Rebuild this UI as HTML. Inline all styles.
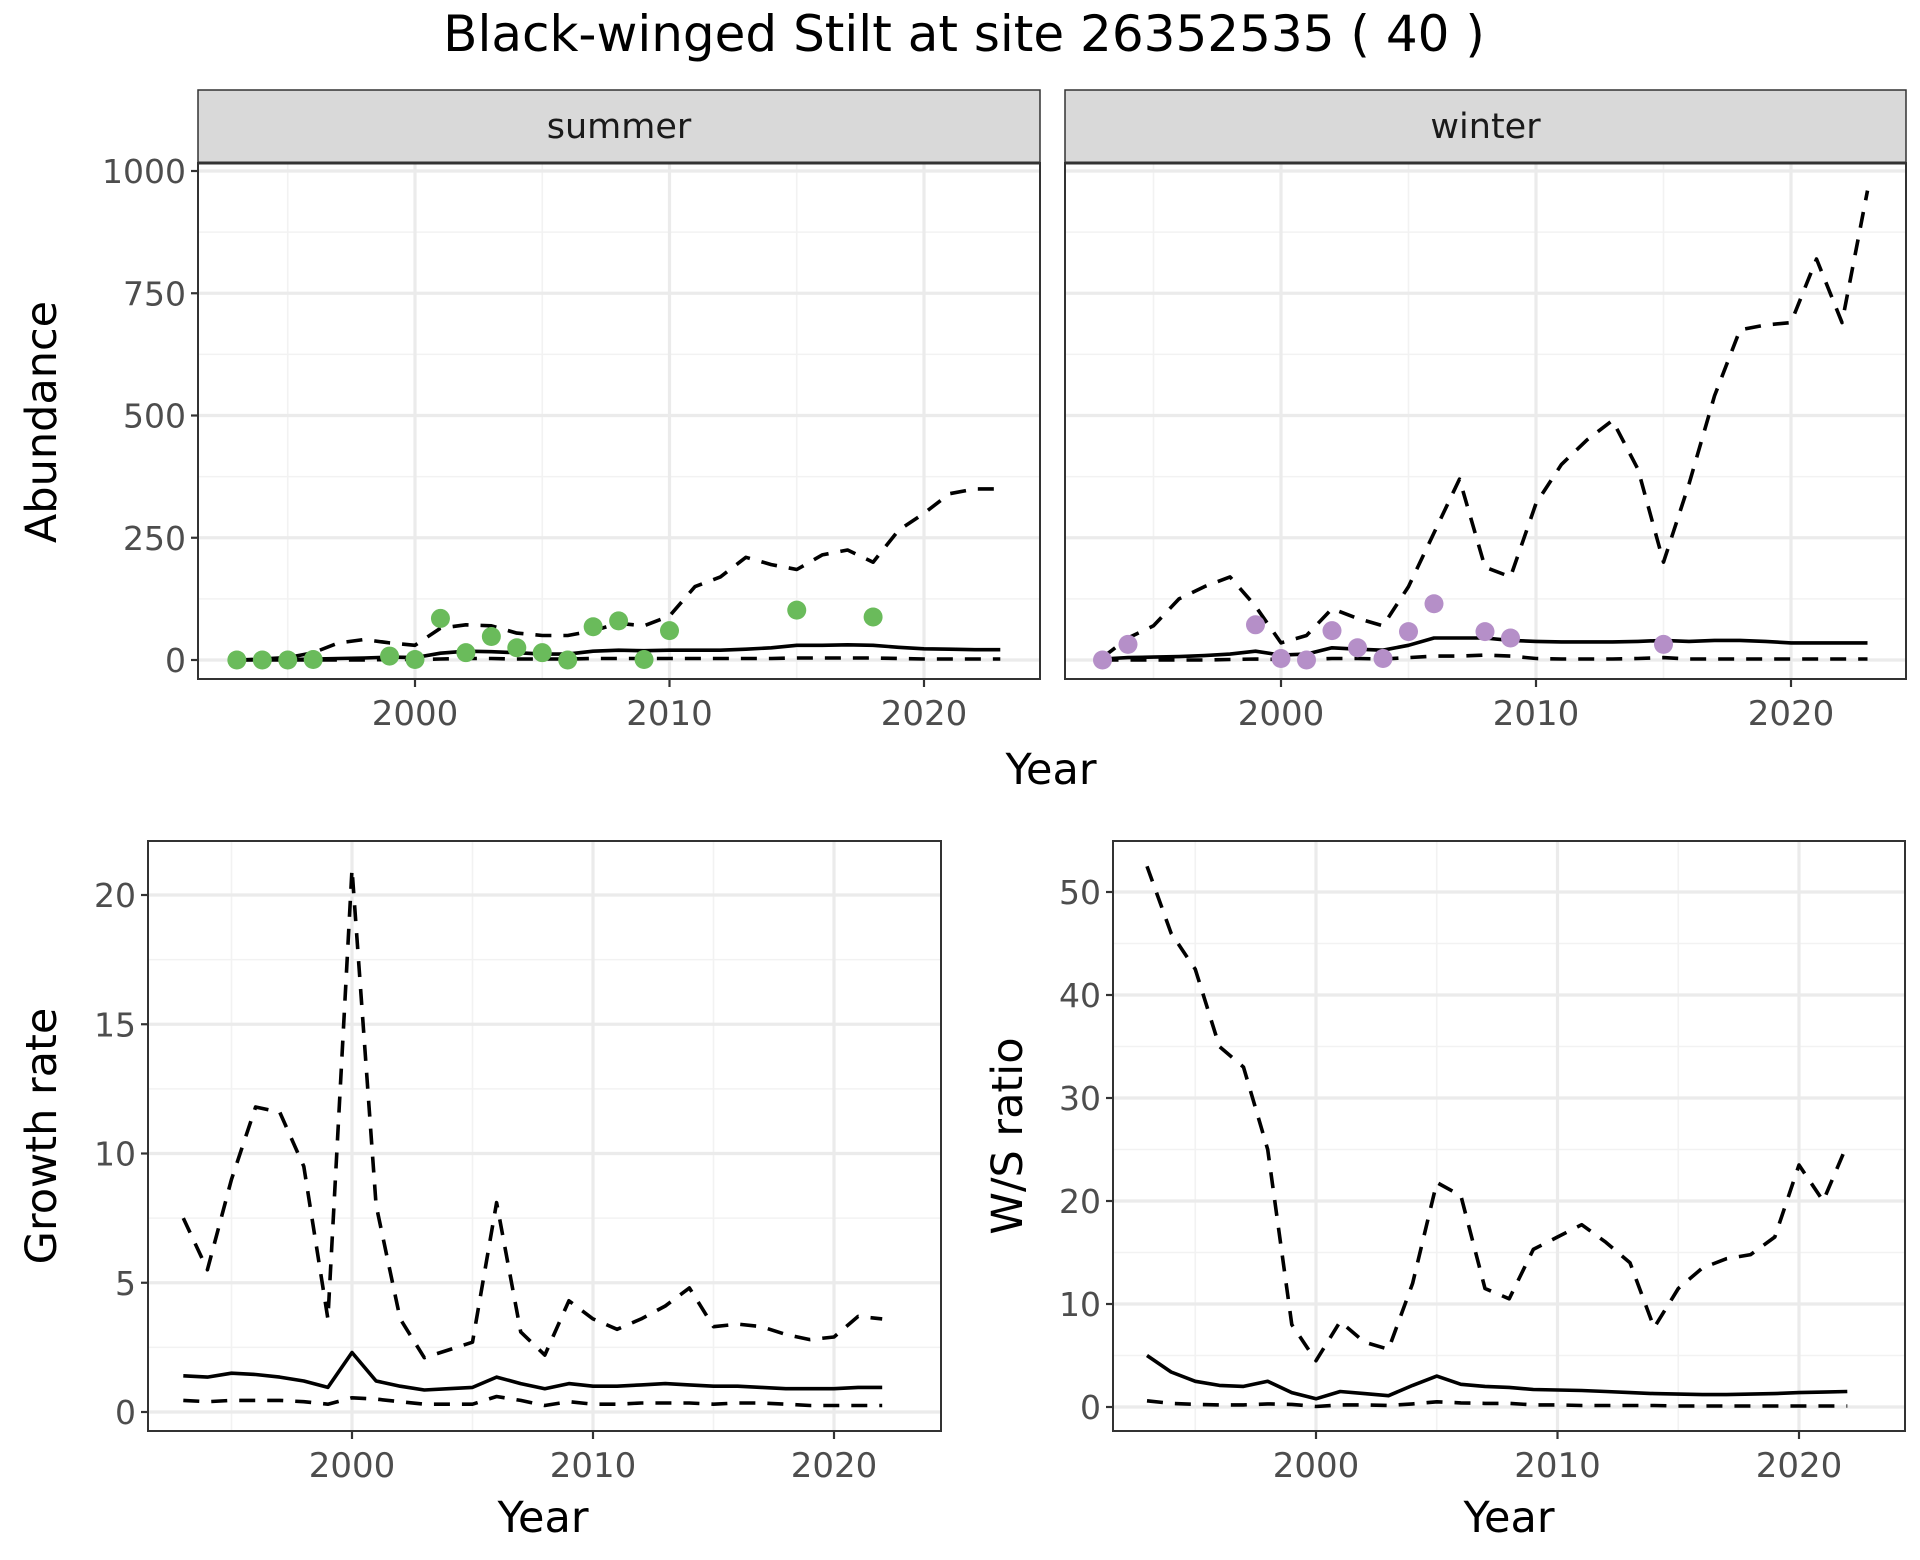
<!DOCTYPE html>
<html><head><meta charset="utf-8"><style>
html,body{margin:0;padding:0;background:#fff;}
svg{display:block;font-family:"DejaVu Sans","Liberation Sans",sans-serif;}
</style></head><body>
<svg id="chart" width="1920" height="1560" viewBox="0 0 1920 1560" xmlns="http://www.w3.org/2000/svg">
<text x="964" y="51" font-size="50" text-anchor="middle" fill="#000">Black-winged Stilt at site 26352535 ( 40 )</text>
</svg>
<script>
const yearsAbund = [1993,1994,1995,1996,1997,1998,1999,2000,2001,2002,2003,2004,2005,2006,2007,2008,2009,2010,2011,2012,2013,2014,2015,2016,2017,2018,2019,2020,2021,2022,2023];
const summerUpper = [0,2,5,15,35,42,35,30,65,72,70,55,50,50,60,75,70,90,150,170,210,195,185,215,225,200,265,300,340,350,350];
const summerMid = [0,1,1,2,3,4,6,5,14,18,17,15,12,12,18,20,19,20,20,20,22,25,30,30,31,30,26,23,22,21,21];
const summerLower = [0,0,0,0,0,0,1,1,2,3,3,2,2,2,3,3,3,3,3,3,3,3,4,4,4,4,3,2,2,2,2];
const summerPtYears = [1993,1994,1995,1996,1999,2000,2001,2002,2003,2004,2005,2006,2007,2008,2009,2010,2015,2018];
const summerPtVals = [0,0,0,1,8,1,85,15,48,25,15,0,68,80,1,60,102,88];
const winterUpper = [5,45,70,125,150,170,110,35,50,105,85,70,150,260,370,190,170,320,400,450,490,390,200,360,540,675,685,690,820,690,960];
const winterMid = [2,5,6,7,9,12,18,10,12,25,22,20,30,45,45,45,40,38,37,37,37,38,40,38,40,40,38,35,35,35,35];
const winterLower = [0,0,0,0,0,1,2,1,1,3,3,2,5,8,8,10,8,3,2,2,2,3,5,2,2,2,2,2,2,2,2];
const winterPtYears = [1993,1994,1999,2000,2001,2002,2003,2004,2005,2006,2008,2009,2015];
const winterPtVals = [0,32,72,3,0,60,25,3,58,115,58,45,32];
const yearsRate = [1993,1994,1995,1996,1997,1998,1999,2000,2001,2002,2003,2004,2005,2006,2007,2008,2009,2010,2011,2012,2013,2014,2015,2016,2017,2018,2019,2020,2021,2022];
const growthUpper = [7.5,5.5,9,11.8,11.6,9.5,3.6,21,8,3.6,2.1,2.4,2.7,8.1,3.1,2.2,4.3,3.6,3.2,3.6,4.1,4.8,3.3,3.4,3.3,3.0,2.8,2.9,3.7,3.6];
const growthMid = [1.4,1.35,1.5,1.45,1.35,1.2,0.95,2.3,1.2,1.0,0.85,0.9,0.95,1.35,1.1,0.9,1.1,1.0,1.0,1.05,1.1,1.05,1.0,1.0,0.95,0.9,0.9,0.9,0.95,0.95];
const growthLower = [0.45,0.4,0.45,0.45,0.45,0.4,0.3,0.55,0.5,0.4,0.3,0.3,0.3,0.6,0.45,0.25,0.4,0.3,0.3,0.35,0.35,0.35,0.3,0.35,0.35,0.3,0.25,0.25,0.25,0.25];
const wsUpper = [52.5,46,42.5,35,33,25,8,4.5,8.3,6.3,5.6,12,21.8,20.5,11.5,10.5,15.3,16.5,17.7,16,14,7.7,11.5,13.5,14.4,14.8,16.5,23.5,20,25.5];
const wsMid = [5,3.4,2.5,2.1,2.0,2.5,1.4,0.8,1.5,1.3,1.1,2.1,3.0,2.2,2.0,1.9,1.7,1.65,1.6,1.5,1.4,1.3,1.25,1.2,1.2,1.25,1.3,1.4,1.45,1.5];
const wsLower = [0.6,0.35,0.25,0.2,0.2,0.3,0.25,0.05,0.2,0.2,0.15,0.3,0.5,0.4,0.35,0.35,0.2,0.2,0.15,0.15,0.15,0.15,0.1,0.1,0.1,0.1,0.1,0.1,0.1,0.1];
const xTicks = [2000,2010,2020];
const abundTicks = [0,250,500,750,1000];
const growthTicks = [0,5,10,15,20];
const wsTicks = [0,10,20,30,40,50];

const NS = 'http://www.w3.org/2000/svg';
const svg = document.getElementById('chart');
function mk(tag, attrs, parent){
  const e = document.createElementNS(NS, tag);
  for (const k in attrs) e.setAttribute(k, attrs[k]);
  (parent||svg).appendChild(e);
  return e;
}
function linScale(d0,d1,r0,r1){ return v => r0 + (v-d0)/(d1-d0)*(r1-r0); }

function panel(cfg){
  const g = mk('g', {});
  
  
  const {x0,x1,y0,y1} = cfg;
  const sx = linScale(cfg.xd0, cfg.xd1, cfg.xr0, cfg.xr1);
  const sy = linScale(cfg.yd0, cfg.yd1, cfg.yr0, cfg.yr1);
  mk('rect', {x:x0,y:y0,width:x1-x0,height:y1-y0,fill:'#fff'}, g);
  const yStep = cfg.yTicks[1]-cfg.yTicks[0];
  for (let i=0;i<cfg.yTicks.length+1;i++){
    const v = cfg.yTicks[0]-yStep/2 + i*yStep;
    const py = sy(v);
    if (py>y0 && py<y1) mk('line',{x1:x0,x2:x1,y1:py,y2:py,stroke:'#f2f2f2','stroke-width':1.6},g);
  }
  [1995,2005,2015].forEach(v=>{const px=sx(v); if(px>x0&&px<x1) mk('line',{x1:px,x2:px,y1:y0,y2:y1,stroke:'#f2f2f2','stroke-width':1.6},g);});
  cfg.yTicks.forEach(v=>{const py=sy(v); mk('line',{x1:x0,x2:x1,y1:py,y2:py,stroke:'#ebebeb','stroke-width':3.2},g);});
  xTicks.forEach(v=>{const px=sx(v); mk('line',{x1:px,x2:px,y1:y0,y2:y1,stroke:'#ebebeb','stroke-width':3.2},g);});
  const series = [[cfg.upper,'16,12','upper'],[cfg.mid,'none','mid'],[cfg.lower,'16,12','lower']];
  series.forEach(([vals,dash,nm])=>{
    const d = vals.map((v,i)=>(i?'L':'M')+sx(cfg.years[i]).toFixed(1)+','+sy(v).toFixed(1)).join('');
    const p = mk('path',{d:d,fill:'none',stroke:'#000','stroke-width':3.6,'stroke-dasharray':dash,'stroke-linejoin':'round'},g);
    
    
  });
  if (cfg.ptYears){
    cfg.ptYears.forEach((yr,i)=>{
      const c = mk('circle',{cx:sx(yr),cy:sy(cfg.ptVals[i]),r:9.5,fill:cfg.ptColor},g);
      
      
    });
  }
  mk('rect',{x:x0,y:y0,width:x1-x0,height:y1-y0,fill:'none',stroke:'#333','stroke-width':2},g);
  if (cfg.showY){
    cfg.yTicks.forEach(v=>{
      const py=sy(v);
      mk('line',{x1:x0-7,x2:x0,y1:py,y2:py,stroke:'#333','stroke-width':2.2},g);
      const t = mk('text',{x:x0-12,y:py+12,'font-size':33,'text-anchor':'end',fill:'#4d4d4d'},g);
      t.textContent = v;
      
      
    });
  }
  xTicks.forEach(v=>{
    const px=sx(v);
    mk('line',{x1:px,x2:px,y1:y1,y2:y1+8,stroke:'#333','stroke-width':2.2},g);
    const t = mk('text',{x:px,y:y1+46,'font-size':34,'text-anchor':'middle',fill:'#4d4d4d'},g);
    t.textContent = v;
    
    
  });
  if (cfg.strip){
    mk('rect',{x:x0,y:90,width:x1-x0,height:y0-90,fill:'#d9d9d9',stroke:'#333','stroke-width':1.5},g);
    mk('line',{x1:x0,x2:x1,y1:y0,y2:y0,stroke:'#333','stroke-width':3},g);
    const t = mk('text',{x:(x0+x1)/2,y:138,'font-size':35,'text-anchor':'middle',fill:'#1a1a1a'},g);
    t.textContent = cfg.strip;
    
    
  }
}

panel({name:'summer-panel',x0:198,x1:1040,y0:163,y1:679,xd0:2000,xd1:2020,xr0:415,xr1:924,yd0:0,yd1:1000,yr0:660,yr1:171,
  years:yearsAbund,upper:summerUpper,mid:summerMid,lower:summerLower,ptYears:summerPtYears,ptVals:summerPtVals,ptColor:'#6abb5b',
  yTicks:abundTicks,showY:true,strip:'summer'});
panel({name:'winter-panel',x0:1065,x1:1906,y0:163,y1:679,xd0:2000,xd1:2020,xr0:1281,xr1:1791,yd0:0,yd1:1000,yr0:660,yr1:171,
  years:yearsAbund,upper:winterUpper,mid:winterMid,lower:winterLower,ptYears:winterPtYears,ptVals:winterPtVals,ptColor:'#b58fc8',
  yTicks:abundTicks,showY:false,strip:'winter'});
panel({name:'growth-panel',x0:148,x1:941,y0:841,y1:1431,xd0:2000,xd1:2020,xr0:352,xr1:834,yd0:0,yd1:20,yr0:1412,yr1:895,
  years:yearsRate,upper:growthUpper,mid:growthMid,lower:growthLower,yTicks:growthTicks,showY:true});
panel({name:'ws-panel',x0:1113,x1:1905,y0:841,y1:1431,xd0:2000,xd1:2020,xr0:1316,xr1:1799,yd0:0,yd1:50,yr0:1407,yr1:892,
  years:yearsRate,upper:wsUpper,mid:wsMid,lower:wsLower,yTicks:wsTicks,showY:true});

function label(txt,x,y,rot,name){
  const t = mk('text',{x:x,y:y,'font-size':43,'text-anchor':'middle',fill:'#000'});
  if (rot) t.setAttribute('transform','rotate(-90 '+x+' '+y+')');
  t.textContent = txt;
  
  
}
label('Year',1051,784,false,'top-x-axis-title');
label('Abundance',56,422,true,'abundance-y-axis-title');
label('Year',543,1532,false,'growth-x-axis-title');
label('Growth rate',56,1136,true,'growth-y-axis-title');
label('Year',1509,1532,false,'ws-x-axis-title');
label('W/S ratio',1022,1136,true,'ws-y-axis-title');
</script>
</body></html>
